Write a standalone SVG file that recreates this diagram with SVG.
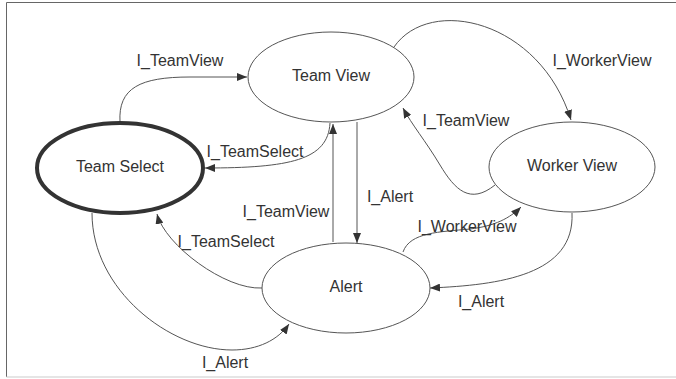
<svg xmlns="http://www.w3.org/2000/svg" width="676" height="379" viewBox="0 0 676 379">
<style>
.node ellipse{fill:#fff;stroke:#555;stroke-width:1}
.node text{font-family:"Liberation Sans",Arial,sans-serif;font-size:16px;fill:#333;text-anchor:middle}
.edge{fill:none;stroke:#555;stroke-width:1;marker-end:url(#ah)}
.lbl{font-family:"Liberation Sans",Arial,sans-serif;font-size:16px;fill:#333;text-anchor:middle}
</style>
<defs>
<marker id="ah" viewBox="0 0 10 8" refX="10" refY="4" markerWidth="10" markerHeight="8" markerUnits="userSpaceOnUse" orient="auto">
<path d="M0,0 L10,4 L0,8 z" fill="#333"/>
</marker>
</defs>
<rect width="676" height="379" fill="#fff"/>
<g id="frame">
<line x1="6.5" y1="2.5" x2="676" y2="2.5" stroke="#666" stroke-width="1"/>
<line x1="6.5" y1="2.5" x2="6.5" y2="377" stroke="#666" stroke-width="1"/>
<line x1="6.5" y1="377" x2="676" y2="377" stroke="#ddd" stroke-width="1.5"/>
</g>
<g id="connectors">
<path class="edge" d="M120,122 C118,88 140,77 190,77 L247,77"/>
<path class="edge" d="M330,123 C328,160 290,168 205,168"/>
<path class="edge" d="M394,47 C430,-5 540,20 571,120"/>
<path class="edge" d="M495,185 C470,205 455,190 440,165 C425,140 412,125 403,108"/>
<path class="edge" d="M403,252 C410,232 440,232 470,229 C495,226 510,218 521,207"/>
<path class="edge" d="M572,213 C575,275 500,285 430,288"/>
<path class="edge" d="M262,288 C225,290 165,245 157,214"/>
<path class="edge" d="M92,213 C92,290 170,350 232,350 C258,350 278,340 289,324"/>
<path class="edge" d="M333,242 L333,124"/>
<path class="edge" d="M357,122 L357,243"/>
<text class="lbl" x="180" y="66">I_TeamView</text>
<text class="lbl" x="255" y="157">I_TeamSelect</text>
<text class="lbl" x="602" y="66">I_WorkerView</text>
<text class="lbl" x="466" y="126">I_TeamView</text>
<text class="lbl" x="390" y="202">I_Alert</text>
<text class="lbl" x="286" y="217">I_TeamView</text>
<text class="lbl" x="226" y="247">I_TeamSelect</text>
<text class="lbl" x="467" y="232">I_WorkerView</text>
<text class="lbl" x="481" y="307">I_Alert</text>
<text class="lbl" x="225" y="368">I_Alert</text>
</g>
<g id="team-select" class="node">
<ellipse cx="120" cy="168" rx="83" ry="45" style="stroke:#333;stroke-width:4"/>
<text x="120" y="172">Team Select</text>
</g>
<g id="team-view" class="node">
<ellipse cx="331" cy="77" rx="83" ry="45"/>
<text x="331" y="81">Team View</text>
</g>
<g id="worker-view" class="node">
<ellipse cx="572" cy="167" rx="83" ry="45"/>
<text x="572" y="171">Worker View</text>
</g>
<g id="alert" class="node">
<ellipse cx="346" cy="288" rx="84" ry="45"/>
<text x="346" y="292">Alert</text>
</g>
</svg>
